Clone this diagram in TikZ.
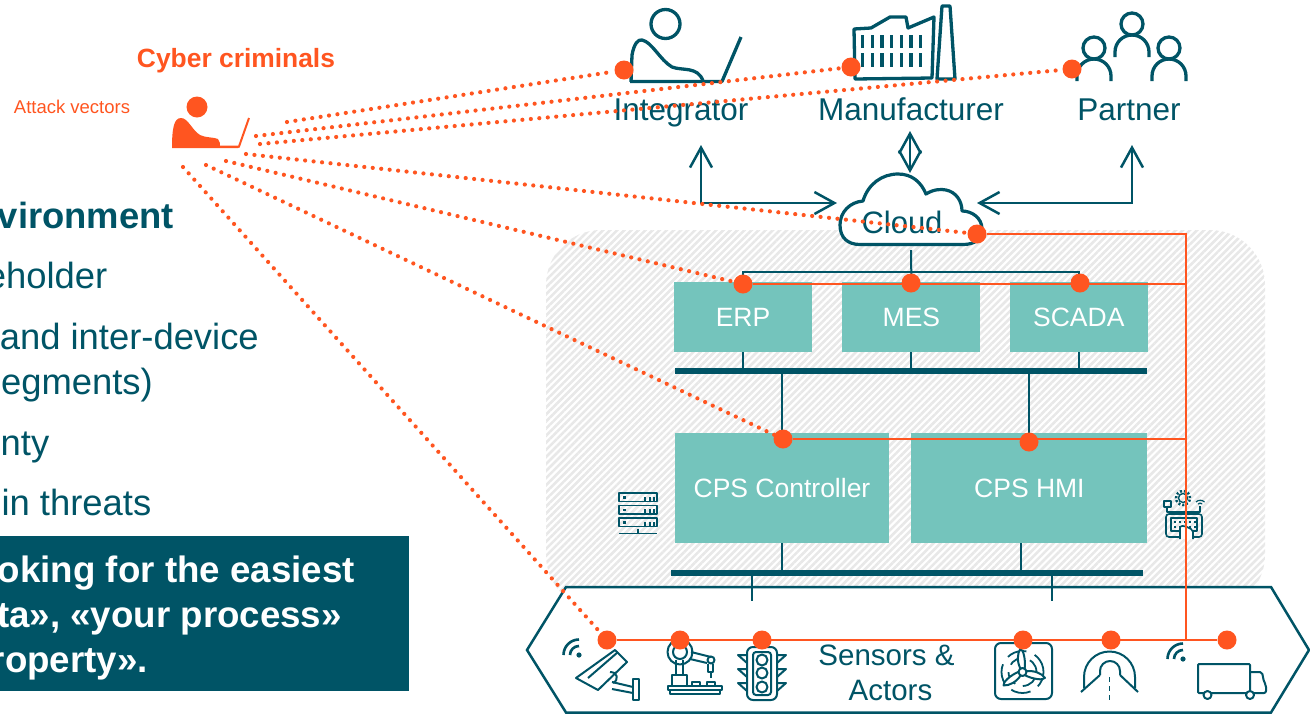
\documentclass[tikz,border=0pt]{standalone}
\usepackage{fontspec}
\setmainfont{Liberation Sans}
\usetikzlibrary{positioning,chains,arrows.meta,patterns.meta}
\definecolor{petrol}{RGB}{0,84,102}
\definecolor{signal}{RGB}{255,85,32}
\definecolor{mint}{RGB}{116,196,188}
\newcommand{\fsz}[1]{\fontsize{#1}{#1}\selectfont}
\tikzset{%
	txt/.style={%
		inner sep=0pt,
		text=petrol
	},
	head/.style={txt, anchor=base, font=\fsz{31.5}},
	side/.style={txt, anchor=base east, font=\fsz{36.4}},
	sideb/.style={side, font=\fsz{36.4}\bfseries},
	boxline/.style={side, text=white, font=\fsz{36.7}\bfseries},
	device/.style={%
		rectangle,
		fill=mint,
		text=white,
		font=\fsz{26.5}
	},
	bus/.style={rectangle, fill=petrol, inner sep=0pt, minimum width=472pt, minimum height=6pt},
	link/.style={draw=petrol, line width=2pt},
	flow/.style={draw=petrol, line width=2.5pt, {Straight Barb[length=20pt,width=22pt,line width=2.5pt]}-{Straight Barb[length=20pt,width=22pt,line width=2.5pt]}},
	icon/.style={draw=petrol, line width=2pt, line join=round},
	iconb/.style={draw=petrol, line width=3.3pt, line join=round},
	hit/.style={circle, fill=signal, inner sep=0pt, minimum size=19pt},
	wire/.style={draw=signal, line width=2pt},
	vector/.style={draw=signal, line width=4.2pt, line cap=round, dash pattern=on 0pt off 8.5pt}
}

\begin{document}
\begin{tikzpicture}[x=1pt, y=-1pt, start chain, node distance=29pt, every on chain/.style={device, minimum width=138pt, minimum height=70pt}]
	\useasboundingbox (0,0) rectangle (1310,713);
	% hatched plant area
	\path[pattern={Lines[angle=45,distance=5pt,line width=2.6pt]}, pattern color=black!9, rounded corners=55pt] (546,230) rectangle (1265,610);
	\draw[draw=petrol, line width=2.5pt, fill=white] (566,587) -- (1271,587) -- (1309,650) -- (1271,712.5) -- (566,712.5) -- (527,650) -- cycle;

	% left column of text
	\node[sideb] (lineEnv) at (174,228) {vironment};
	\node[side] (lineStake) at (107.5,288) {eholder};
	\node[side] (lineInter) at (259,349) {and inter-device};
	\node[side] (lineSeg) at (153,394) {egments)};
	\node[side] (lineNty) at (49.5,455) {nty};
	\node[side] (lineChain) at (151.5,515) {in threats};
	\fill[petrol] (0,536) rectangle (409,691);
	\node[boxline] (lineLook) at (355,582) {oking for the easiest};
	\node[boxline] (lineData) at (342,627) {ta», «your process»};
	\node[boxline] (lineProp) at (148,672) {roperty».};

	\node[txt, anchor=base, text=signal, font=\fsz{26.4}\bfseries] (criminals) at (236,67) {Cyber criminals};
	\node[txt, anchor=base, text=signal, font=\fsz{18.5}] (attack) at (72,113) {Attack vectors};

	% attacker
	\fill[signal] (197,107) circle[radius=10.5pt];
	\fill[signal] (172,148) .. controls (172,128) and (174,118) .. (181,118) .. controls (188,118) and (192,130) .. (200,135) .. controls (206,138) and (214,137) .. (218,139) .. controls (220,141) and (220,144) .. (220,146) -- (240,146) -- (238,148) -- cycle;
	\draw[signal, line width=2pt] (219,146.5) -- (239,146.5) -- (249,118);

	% stakeholders
	\node[head] (integrator) at (681,120) {Integrator};
	\node[head] (manufacturer) at (911,120) {Manufacturer};
	\node[head] (partner) at (1129,120) {Partner};
	\draw[iconb] (665.5,24) circle[radius=14.5pt];
	\draw[iconb] (631,82) -- (632,55) .. controls (634,44) and (638,39) .. (642,40) .. controls (652,42) and (660,60) .. (672,67) .. controls (682,71) and (698,66) .. (703,81);
	\draw[iconb] (630,81.5) -- (722,81.5) -- (741,37);
	\draw[iconb] (854,29) -- (855,79) -- (932,78) -- (934,17) -- (908,28) -- (906,17) -- (890,17) -- (871,28) -- cycle;
	\draw[iconb] (937,79) -- (942,6) -- (950,6) -- (955,79) -- cycle;
	\foreach \col in {0,...,6} {
		\draw[draw=petrol, line width=3.3pt] (862.5+9.7*\col,35) -- (862.5+9.7*\col,48);
		\draw[draw=petrol, line width=3.3pt] (862.5+9.7*\col,53) -- (862.5+9.7*\col,67);
	}
	\foreach \px/\py in {1094/48,1132/24,1169/48} {
		\draw[iconb] (\px,\py) circle[radius=11pt];
		\draw[iconb] (\px-17,\py+33) -- (\px-17,\py+28) arc[start angle=180, end angle=0, radius=17pt] -- (\px+17,\py+33);
	}

	% cloud and arrows
	\draw[iconb, line width=3.2pt, fill=white] (860,244.5) .. controls (848,244.5) and (840,238) .. (840,225) .. controls (840,212) and (850,202) .. (863,201) .. controls (868,184) and (882,174) .. (898,174) .. controls (912,174) and (921,182) .. (926,194) .. controls (934,189) and (941,189) .. (946,190) .. controls (956,192) and (962,201) .. (962,211) .. controls (972,211) and (982,218) .. (982,229) .. controls (982,239) and (975,244.5) .. (963,244.5) -- cycle;
	\node[txt, anchor=base, font=\fsz{31}] (cloud) at (902,233) {Cloud};
	\coordinate (upInt) at (701,145);
	\coordinate (cornerInt) at (701,203);
	\coordinate (cloudW) at (837,203);
	\coordinate (upPar) at (1132,145);
	\coordinate (cornerPar) at (1132,203);
	\coordinate (cloudE) at (977,203);
	\coordinate (upMan) at (910,131);
	\coordinate (cloudN) at (910,173);
	\coordinate (cloudS) at (911,250);
	\draw[flow] (upInt) -- (cornerInt) -- (cloudW);
	\draw[flow] (upPar) -- (cornerPar) -- (cloudE);
	\draw[flow] (upMan) -- (cloudN);

	% first row
	\node[on chain] (erp) at (743,317) {ERP};
	\node[on chain, right=30pt of erp] (mes) {MES};
	\node[on chain] (scada) {SCADA};
	\node[bus] (busTop) at (911,371) {};
	\coordinate (splitErp) at (erp.north |- 0,272);
	\coordinate (splitScada) at (scada.north |- 0,272);
	\draw[link] (cloudS) -- (mes.north);
	\draw[link] (erp.north) -- (splitErp) -- (splitScada) -- (scada.north);
	\draw[link] (erp.south) -- (erp.south |- busTop.north);
	\draw[link] (mes.south) -- (mes.south |- busTop.north);
	\draw[link] (scada.south) -- (scada.south |- busTop.north);

	% second row
	\node[device, minimum width=214pt, minimum height=110pt] (cpsCtl) at (782,488) {CPS Controller};
	\node[device, minimum width=236pt, minimum height=110pt, right=22pt of cpsCtl] (cpsHmi) {CPS HMI};
	\node[bus] (busLow) at (907,573) {};
	\draw[link] (busTop.south -| cpsCtl.north) -- (cpsCtl.north);
	\draw[link] (busTop.south -| cpsHmi.north) -- (cpsHmi.north);
	\draw[link] (cpsCtl.south) -- (cpsCtl.south |- busLow.north);
	\draw[link] ([xshift=-8pt]cpsHmi.south) -- ([xshift=-8pt]cpsHmi.south |- busLow.north);
	\coordinate (stubA) at (752,601);
	\coordinate (stubB) at (1052,601);
	\draw[link] (stubA |- busLow.south) -- (stubA);
	\draw[link] (stubB |- busLow.south) -- (stubB);

	% server and panel icons
	\foreach \ry in {493,505.5,518} {
		\draw[icon, line width=1.4pt] (619,\ry) rectangle (657,\ry+8.5);
		\fill[petrol] (623,\ry+3) rectangle (625.5,\ry+5.5);
		\foreach \rx in {645,649.5,654} \fill[petrol] (\rx-1,\ry+3.5) rectangle (\rx+1,\ry+8.5);
	}
	\draw[icon, line width=1.4pt] (619,533.5) -- (657,533.5);
	\draw[icon, line width=2pt] (638,529) -- (638,533.5);
	\draw[icon, line width=1.4pt] (1183,498) circle[radius=4.5pt];
	\draw[draw=petrol, line width=2.5pt, dash pattern=on 2pt off 2pt] (1183,498) circle[radius=7pt];
	\draw[icon, line width=1.4pt] (1164,501) rectangle (1171,507);
	\draw[icon, line width=1.4pt] (1167,507) -- (1167,512) -- (1200,512) -- (1200,506);
	\draw[icon, line width=1.2pt] (1196,502) arc[start angle=135, end angle=45, radius=6pt];
	\draw[icon, line width=1.2pt] (1198,504) arc[start angle=135, end angle=45, radius=3pt];
	\draw[icon, line width=1.6pt, rounded corners=3pt] (1166,514) rectangle (1202,537);
	\draw[icon, line width=1.2pt] (1171,518) rectangle (1197,531);
	\foreach \rx in {1175,1180,1185,1190,1195} \foreach \ry in {522,527} \fill[petrol] (\rx-1,\ry-1) rectangle (\rx+1,\ry+1);
	\draw[icon, line width=1.6pt, fill=white, rounded corners=2pt] (1180,539) -- (1180,526) -- (1185,526) -- (1193,530) -- (1193,539);

	% field icons
	\node[txt, font=\fontsize{29.5}{35}\selectfont, align=center] (sensors) at (890.5,673) {Sensors \&\hspace*{8pt}\\Actors};
	\foreach \wx/\wy in {579/655,1183/659} {
		\fill[petrol] (\wx,\wy) circle[radius=2.6pt];
		\draw[draw=petrol, line width=2.6pt] (\wx-9,\wy) arc[start angle=180, end angle=90, radius=9pt];
		\draw[draw=petrol, line width=2.6pt] (\wx-15.5,\wy) arc[start angle=180, end angle=90, radius=15.5pt];
	}
	% camera
	\draw[icon] (576,678) -- (615,650) -- (627,662) -- (598,690) -- cycle;
	\draw[icon] (588,678) -- (618,652);
	\draw[icon] (610,672) .. controls (618,672) and (619,680) .. (613,683);
	\draw[icon] (612,682) -- (633,687);
	\draw[icon] (612,689) -- (633,693);
	\draw[icon] (633,679) rectangle (639,700);
	% robot
	\draw[icon] (668,686) rectangle (722,689.5);
	\draw[icon] (670,689.5) rectangle (720,694);
	\draw[icon] (672,675) rectangle (687,686);
	\draw[icon] (692,682) rectangle (700,686);
	\draw[icon] (707,682) rectangle (715,686);
	\draw[icon] (676,660) -- (676,675);
	\draw[icon] (683,660) -- (683,675);
	\draw[icon] (680,652) circle[radius=12.5pt];
	\draw[icon] (680,652) circle[radius=7pt];
	\draw[icon] (691,652) -- (711,657);
	\draw[icon] (690,659) -- (707,663);
	\draw[icon] (711,660) circle[radius=3.5pt];
	\draw[icon] (708,664) -- (708,672) -- (713,672) -- (713,664);
	\draw[icon] (710.5,672) -- (710.5,678);
	% traffic light
	\draw[icon, rounded corners=6pt] (747,647) rectangle (777,700);
	\draw[icon, rounded corners=3pt] (753,652) rectangle (771,695);
	\foreach \ty in {660,673,687} {
		\draw[icon] (762,\ty) circle[radius=5.5pt];
	}
	\foreach \ty in {655,669,683} {
		\draw[icon] (747,\ty) -- (738,\ty) -- (747,\ty+8);
		\draw[icon] (777,\ty) -- (786,\ty) -- (777,\ty+8);
	}
	% fan
	\draw[icon, rounded corners=6pt] (995,643) rectangle (1052,699);
	\draw[draw=petrol, line width=1.8pt, dash pattern=on 20pt off 9pt] (1022.5,672) circle[radius=21pt];
	\draw[draw=petrol, line width=1.8pt, dash pattern=on 14pt off 8pt] (1022.5,672) circle[radius=14pt];
	\foreach \ang in {88,-22,208} {
		\begin{scope}[shift={(1022.5,672)}, rotate=\ang]
			\draw[icon, fill=white] (3,-2) .. controls (10,-6) and (18,-6) .. (23,-3) .. controls (23,0) and (12,3) .. (3,2) -- cycle;
		\end{scope}
	}
	\draw[icon, fill=white] (1022.5,672) circle[radius=4pt];
	% tunnel
	\draw[icon] (1084,688) -- (1084,677) arc[start angle=180, end angle=0, radius=25.5pt] -- (1135,688);
	\draw[icon] (1100,675) -- (1100,671) arc[start angle=180, end angle=0, radius=10pt] -- (1120,675);
	\draw[icon] (1081,692) -- (1100,675);
	\draw[icon] (1138,692) -- (1120,675);
	\draw[draw=petrol, line width=1.7pt, dash pattern=on 5pt off 4pt] (1109.5,677) -- (1109.5,701);
	% truck
	\draw[icon, rounded corners=1pt] (1250,693) -- (1198,693) -- (1198,664) -- (1250,664) -- cycle;
	\draw[icon, rounded corners=2pt] (1250,672) -- (1262,672) -- (1264,682) -- (1266,685) -- (1266,693) -- (1250,693);
	\draw[icon, fill=white] (1207.5,695) circle[radius=4pt];
	\draw[icon, fill=white] (1250,695) circle[radius=4pt];

	% hit points
	\node[hit] (hitInt) at (624,70) {};
	\node[hit] (hitMan) at (851,67) {};
	\node[hit] (hitPar) at (1072,69) {};
	\node[hit] (hitCloud) at (977,234) {};
	\node[hit] (hitErp) at (743,284) {};
	\node[hit] (hitMes) at (911,283) {};
	\node[hit] (hitScada) at (1080,283) {};
	\node[hit] (hitCtl) at (783,439) {};
	\node[hit] (hitHmi) at (1029,442) {};
	\node[hit] (hitCam) at (607,640) {};
	\node[hit] (hitRobot) at (680,640) {};
	\node[hit] (hitLight) at (762,640) {};
	\node[hit] (hitFan) at (1023,640) {};
	\node[hit] (hitTunnel) at (1111,640) {};
	\node[hit] (hitTruck) at (1227,640) {};

	% wiring
	\coordinate (trunkTop) at (1186,234);
	\coordinate (trunkLow) at (1186,640);
	\draw[wire] (hitCloud) -- (trunkTop) -- (trunkLow);
	\draw[wire] (hitErp) -- (hitErp -| trunkTop);
	\draw[wire] (hitCtl) -- (hitCtl -| trunkTop);
	\draw[wire] (hitCam) -- (hitTruck);

	% attack vectors
	\coordinate (fromA) at (287,122);
	\coordinate (fromB) at (256,136);
	\coordinate (fromC) at (260,144);
	\coordinate (fromD) at (246,154);
	\coordinate (fromE) at (226,161);
	\coordinate (fromF) at (206,165);
	\coordinate (fromG) at (183,167);
	\draw[vector] (fromA) -- (hitInt);
	\draw[vector] (fromB) -- (hitMan);
	\draw[vector] (fromC) -- (hitPar);
	\draw[vector] (fromD) -- (hitCloud);
	\draw[vector] (fromE) -- (hitErp);
	\draw[vector] (fromF) -- (hitCtl);
	\draw[vector] (fromG) -- (hitCam);
\end{tikzpicture}
\end{document}
